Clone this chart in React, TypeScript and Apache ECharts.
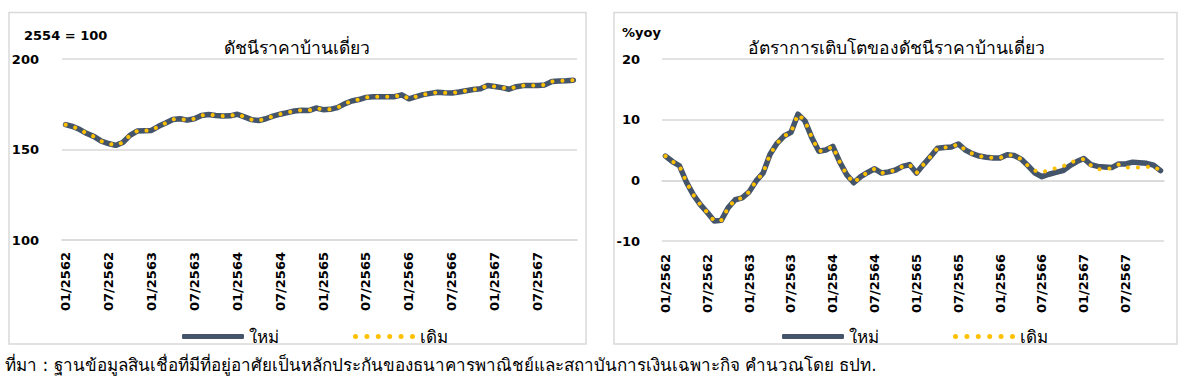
import React, { useEffect, useRef } from "react";
import * as echarts from "echarts";

const years = [2562, 2563, 2564, 2565, 2566, 2567];
const monthCodes = ["01", "02", "03", "04", "05", "06", "07", "08", "09", "10", "11", "12"];
const categories: string[] = [];
years.forEach((y) => monthCodes.forEach((m) => categories.push(`${m}/${y}`)));

// ดัชนีราคาบ้านเดี่ยว (2554 = 100)
const newIndex = [
  163.7, 162.7, 161.0, 158.8, 157.1, 154.6, 153.3, 152.3, 153.9, 157.8, 160.2, 160.4,
  160.5, 162.8, 164.6, 166.6, 167.0, 166.2, 167.0, 168.8, 169.3, 168.8, 168.5, 168.6,
  169.5, 168.0, 166.5, 166.0, 167.0, 168.4, 169.5, 170.4, 171.3, 171.7, 171.5, 172.9,
  172.0, 172.2, 173.1, 175.2, 176.8, 177.6, 178.8, 179.1, 179.1, 179.1, 179.2, 180.2,
  178.0, 179.2, 180.3, 181.0, 181.6, 181.3, 181.2, 181.8, 182.5, 183.1, 183.6, 185.4,
  184.8, 184.2, 183.3, 184.7, 185.3, 185.4, 185.4, 185.7, 187.6, 187.9, 188.0, 188.3,
];
const oldIndex = [
  163.7, 162.7, 161.0, 158.8, 157.1, 154.6, 153.3, 152.3, 153.9, 157.8, 160.2, 160.4,
  160.5, 162.8, 164.6, 166.6, 167.0, 166.2, 167.0, 168.8, 169.3, 168.8, 168.5, 168.6,
  169.5, 168.0, 166.5, 166.0, 167.0, 168.4, 169.5, 170.4, 171.3, 171.7, 171.5, 172.9,
  172.0, 172.2, 173.1, 175.2, 176.8, 177.6, 178.8, 179.1, 179.1, 179.1, 179.2, 180.2,
  178.0, 179.2, 180.3, 181.0, 181.6, 181.3, 181.2, 181.8, 182.5, 183.1, 183.6, 185.4,
  184.8, 184.2, 183.3, 184.7, 185.3, 185.4, 185.4, 185.7, 187.6, 187.9, 188.0, 188.3,
];

// อัตราการเติบโต (%yoy)
const newYoy = [
  4.0, 3.1, 2.4, -0.3, -2.4, -4.0, -5.3, -6.7, -6.6, -4.5, -3.2, -2.9,
  -1.9, -0.1, 1.2, 4.3, 6.1, 7.3, 7.9, 10.9, 9.8, 7.0, 4.8, 5.0,
  5.6, 3.0, 0.9, -0.4, 0.6, 1.3, 1.9, 1.2, 1.4, 1.7, 2.3, 2.6,
  1.2, 2.6, 3.9, 5.3, 5.4, 5.5, 6.0, 5.0, 4.4, 4.0, 3.8, 3.7,
  3.7, 4.2, 4.1, 3.5, 2.4, 1.2, 0.6, 1.0, 1.3, 1.6, 2.4, 3.1,
  3.6, 2.6, 2.3, 2.2, 2.1, 2.7, 2.7, 3.0, 2.9, 2.8, 2.5, 1.6,
];
const oldYoy = [
  4.0, 3.1, 2.4, -0.3, -2.4, -4.0, -5.3, -6.7, -6.6, -4.5, -3.2, -2.9,
  -1.9, -0.1, 1.2, 4.3, 6.1, 7.3, 7.9, 10.9, 9.8, 7.0, 4.8, 5.0,
  5.6, 3.0, 0.9, -0.4, 0.6, 1.3, 1.9, 1.2, 1.4, 1.7, 2.3, 2.6,
  1.2, 2.6, 3.9, 5.3, 5.4, 5.5, 6.0, 5.0, 4.4, 4.0, 3.8, 3.7,
  3.7, 4.2, 4.1, 3.5, 2.4, 1.6, 1.3, 1.7, 2.0, 2.3, 2.9, 3.3,
  3.5, 2.5, 1.8, 1.9, 2.0, 2.6, 2.1, 2.1, 2.1, 2.2, 2.3, 1.6,
];

const seriesNames = ["ใหม่", "เดิม"];
const leftTitle = "ดัชนีราคาบ้านเดี่ยว";
const rightTitle = "อัตราการเติบโตของดัชนีราคาบ้านเดี่ยว";
const leftUnit = "2554 = 100";
const rightUnit = "%yoy";
const caption =
  "ที่มา : ฐานข้อมูลสินเชื่อที่มีที่อยู่อาศัยเป็นหลักประกันของธนาคารพาณิชย์และสถาบันการเงินเฉพาะกิจ คำนวณโดย ธปท.";

const FONT = "Tahoma, 'DejaVu Sans', 'Noto Sans', sans-serif";
const GRID_COLOR = "#d9d9d9";
const DARK = "#44546A";
const YELLOW = "#FFC000";

// legend icon: a row of six round dots (62 x 5 box)
const DOT_ICON =
  "path://" +
  [2.5, 13.9, 25.3, 36.7, 48.1, 59.5]
    .map((cx) => `M${cx - 2.5},2.5a2.5,2.5 0 1,0 5,0a2.5,2.5 0 1,0 -5,0z`)
    .join("");

export default function App() {
  const ref = useRef<HTMLDivElement>(null);

  useEffect(() => {
    if (!ref.current) return;
    const chart = echarts.init(ref.current, undefined, { renderer: "svg" });

    const labelStyle = { fontSize: 13, fontWeight: "bold", color: "#000", fontFamily: FONT };
    const darkLine = (name: string, data: number[], xi: number, yi: number) => ({
      name,
      type: "line",
      xAxisIndex: xi,
      yAxisIndex: yi,
      data,
      symbol: "none",
      z: 2,
      lineStyle: { color: DARK, width: 5.5, cap: "round", join: "round" },
      itemStyle: { color: DARK },
    });
    const dotLine = (name: string, data: number[], xi: number, yi: number) => ({
      name,
      type: "line",
      xAxisIndex: xi,
      yAxisIndex: yi,
      data,
      symbol: "none",
      z: 3,
      lineStyle: { color: YELLOW, width: 4, type: [0.1, 9.9], cap: "round", join: "round" },
      itemStyle: { color: YELLOW },
    });

    const legendBase = {
      top: 323,
      itemWidth: 62,
      itemHeight: 5,
      itemGap: 74,
      symbolKeepAspect: false,
      data: [
        { name: seriesNames[0], icon: "roundRect" },
        { name: seriesNames[1], icon: DOT_ICON },
      ],
      itemStyle: { borderWidth: 0 },
      textStyle: { fontSize: 17, color: "#000", fontFamily: FONT },
      selectedMode: false,
    };

    chart.setOption({
      animation: false,
      textStyle: { fontFamily: FONT },
      grid: [
        { left: 62, top: 59, width: 515, height: 181 },
        { left: 662, top: 59, width: 502, height: 182 },
      ],
      legend: [
        { ...legendBase, left: 177 },
        { ...legendBase, left: 777 },
      ],
      xAxis: [
        {
          gridIndex: 0,
          type: "category",
          data: categories,
          boundaryGap: true,
          axisLine: { lineStyle: { color: GRID_COLOR, width: 1.5 } },
          axisTick: { interval: 5, length: 5, lineStyle: { color: GRID_COLOR, width: 1.5 } },
          axisLabel: { ...labelStyle, interval: 5, rotate: 90, margin: 12 },
        },
        {
          gridIndex: 1,
          type: "category",
          data: categories,
          boundaryGap: true,
          axisLine: { onZero: true, lineStyle: { color: GRID_COLOR, width: 1.5 } },
          axisTick: { interval: 5, length: 6, lineStyle: { color: GRID_COLOR, width: 1.5 } },
          axisLabel: { show: false },
        },
        {
          gridIndex: 1,
          type: "category",
          data: categories,
          position: "bottom",
          boundaryGap: true,
          axisLine: { show: false, onZero: false },
          axisTick: { show: false },
          axisLabel: { ...labelStyle, interval: 5, rotate: 90, margin: 13 },
        },
      ],
      yAxis: [
        {
          gridIndex: 0,
          type: "value",
          min: 100,
          max: 200,
          interval: 50,
          axisLine: { show: false },
          axisTick: { show: false },
          splitLine: { lineStyle: { color: GRID_COLOR, width: 1.5 } },
          axisLabel: { ...labelStyle, margin: 23 },
        },
        {
          gridIndex: 1,
          type: "value",
          min: -10,
          max: 20,
          interval: 10,
          axisLine: { show: false },
          axisTick: { show: false },
          splitLine: { lineStyle: { color: GRID_COLOR, width: 1.5 } },
          axisLabel: { ...labelStyle, margin: 22 },
        },
      ],
      series: [
        darkLine(seriesNames[0], newIndex, 0, 0),
        dotLine(seriesNames[1], oldIndex, 0, 0),
        darkLine(seriesNames[0], newYoy, 1, 1),
        dotLine(seriesNames[1], oldYoy, 1, 1),
      ],
      graphic: [
        {
          type: "rect",
          shape: { x: 9, y: 12.5, width: 577, height: 331.5 },
          style: { fill: "none", stroke: GRID_COLOR, lineWidth: 1.5 },
          silent: true,
          z: -10,
        },
        {
          type: "rect",
          shape: { x: 614, y: 12.5, width: 563, height: 331.5 },
          style: { fill: "none", stroke: GRID_COLOR, lineWidth: 1.5 },
          silent: true,
          z: -10,
        },
        {
          type: "text",
          x: 24,
          y: 35,
          style: { text: leftUnit, fill: "#000", font: `bold 13px ${FONT}`, verticalAlign: "middle" },
        },
        {
          type: "text",
          x: 297,
          y: 48,
          style: { text: leftTitle, fill: "#000", font: `17.5px ${FONT}`, align: "center", verticalAlign: "middle" },
        },
        {
          type: "text",
          x: 622,
          y: 32,
          style: { text: rightUnit, fill: "#000", font: `bold 13px ${FONT}`, verticalAlign: "middle" },
        },
        {
          type: "text",
          x: 896,
          y: 48,
          style: { text: rightTitle, fill: "#000", font: `17.5px ${FONT}`, align: "center", verticalAlign: "middle" },
        },
        {
          type: "text",
          x: 5,
          y: 365,
          style: { text: caption, fill: "#000", font: `17px ${FONT}`, verticalAlign: "middle" },
        },
      ],
    });

    return () => chart.dispose();
  }, []);

  return (
    <div
      ref={ref}
      style={{ position: "fixed", left: 0, top: 0, width: 1183, height: 387, background: "#fff" }}
    />
  );
}
